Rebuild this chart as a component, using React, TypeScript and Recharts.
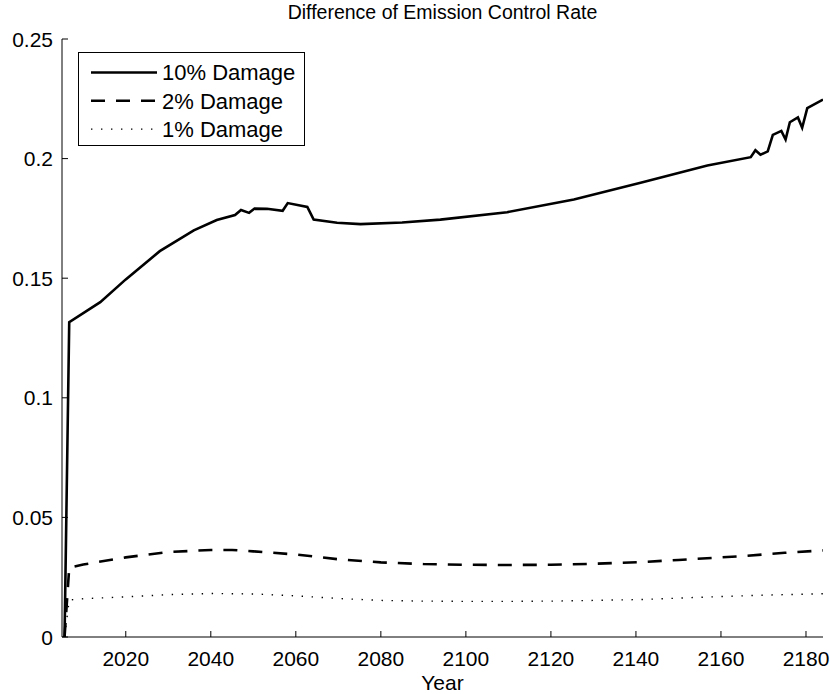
import { LineChart, Line, XAxis, YAxis, Legend } from 'recharts'

// 10% damage run
const years10 = [2005.6, 2006.7, 2014, 2020, 2028, 2036, 2041.4, 2045.7, 2047.1, 2049.0, 2050.3, 2053.2, 2056.9, 2058.1, 2062.7, 2064.2, 2069.7, 2075.2, 2085, 2094, 2109.7, 2125.4, 2141.1, 2156.8, 2167.0, 2168.1, 2169.3, 2171.0, 2172.2, 2174.2, 2175.2, 2176.2, 2178.1, 2179.1, 2180.3, 2184]
const damage10 = [0, 0.1316, 0.14, 0.1495, 0.1613, 0.17, 0.1743, 0.1764, 0.1785, 0.1773, 0.1791, 0.179, 0.1782, 0.1814, 0.1798, 0.1745, 0.1732, 0.1726, 0.1733, 0.1745, 0.1776, 0.1829, 0.1899, 0.1971, 0.2006, 0.2035, 0.2016, 0.203, 0.2099, 0.2116, 0.208, 0.2152, 0.2172, 0.2129, 0.2211, 0.2247]

// 2% damage run
const years2 = [2005.6, 2006.7, 2010, 2020, 2030, 2040, 2045, 2050, 2060, 2070, 2080, 2090, 2100, 2110, 2120, 2130, 2141, 2150, 2165, 2175, 2184]
const damage2 = [0, 0.029, 0.0303, 0.0333, 0.0355, 0.0364, 0.0364, 0.0358, 0.0345, 0.0325, 0.0312, 0.0305, 0.0302, 0.0301, 0.0302, 0.0306, 0.0313, 0.0322, 0.0338, 0.0352, 0.0362]

// 1% damage run
const years1 = [2005.6, 2006.7, 2010, 2020, 2030, 2040, 2050, 2060, 2070, 2080, 2090, 2100, 2110, 2120, 2130, 2142, 2155, 2170, 2184]
const damage1 = [0, 0.0155, 0.016, 0.0168, 0.0177, 0.0182, 0.018, 0.0172, 0.0161, 0.0153, 0.015, 0.0149, 0.0149, 0.015, 0.0153, 0.0157, 0.0166, 0.0175, 0.0181]

const xTicks = [2020, 2040, 2060, 2080, 2100, 2120, 2140, 2160, 2180]
const yTicks = [0, 0.05, 0.1, 0.15, 0.2, 0.25]
const yLabels = ['0', '0.05', '0.1', '0.15', '0.2', '0.25']

const FONT = '"Liberation Sans", Arial, Helvetica, sans-serif'
const TICK_LEN = 6

const toRows = (xs: number[], ys: number[]) => xs.map((year, i) => ({ year, value: ys[i] }))

const series = [
  { name: '10% Damage', data: toRows(years10, damage10), width: 2.6, dash: undefined as string | undefined },
  { name: '2% Damage', data: toRows(years2, damage2), width: 2.6, dash: '14 11' },
  { name: '1% Damage', data: toRows(years1, damage1), width: 1.4, dash: '1.4 8.6' },
]

function BottomTick(props: any) {
  const { x, y, payload } = props
  return (
    <g>
      <line x1={x} x2={x} y1={y} y2={y - TICK_LEN} stroke="#000" strokeWidth={1} />
      <text x={x} y={y + 29} textAnchor="middle" fontSize={21} fontFamily={FONT} fill="#000">{payload.value}</text>
    </g>
  )
}

function TopTick(props: any) {
  const { x, y } = props
  return <line x1={x} x2={x} y1={y} y2={y + TICK_LEN} stroke="#000" strokeWidth={1} />
}

function LeftTick(props: any) {
  const { x, y, payload } = props
  const idx = yTicks.indexOf(payload.value)
  return (
    <g>
      <line x1={x} x2={x + TICK_LEN} y1={y} y2={y} stroke="#000" strokeWidth={1} />
      <text x={x - 9} y={y + 7.5} textAnchor="end" fontSize={21} fontFamily={FONT} fill="#000">
        {idx >= 0 ? yLabels[idx] : payload.value}
      </text>
    </g>
  )
}

function RightTick(props: any) {
  const { x, y } = props
  return <line x1={x} x2={x - TICK_LEN} y1={y} y2={y} stroke="#000" strokeWidth={1} />
}

function LegendBox() {
  return (
    <svg width={227} height={94} style={{ display: 'block' }}>
      <rect x={0.5} y={0.5} width={226} height={93} fill="#fff" stroke="#000" strokeWidth={1} />
      {series.map((s, i) => {
        const cy = 20.5 + i * 28.3
        return (
          <g key={s.name}>
            <line x1={13} x2={79} y1={cy} y2={cy} stroke="#000" strokeWidth={s.width} strokeDasharray={s.dash} />
            <text x={84} y={cy + 7.8} fontSize={22} fontFamily={FONT} fill="#000">{s.name}</text>
          </g>
        )
      })}
    </svg>
  )
}

export default function App() {
  return (
    <div style={{ position: 'absolute', left: 0, top: 0, width: 830, height: 694, background: '#fff', fontFamily: FONT }}>
      <div style={{ position: 'absolute', left: 62, width: 761, top: 0, textAlign: 'center', fontSize: 19.5, lineHeight: '24px', color: '#000' }}>
        Difference of Emission Control Rate
      </div>
      <LineChart width={830} height={694} margin={{ top: 39, right: 7, bottom: 0, left: 0 }}>
        <XAxis
          xAxisId="b"
          type="number"
          dataKey="year"
          domain={[2005, 2184]}
          allowDataOverflow
          ticks={xTicks}
          interval={0}
          height={57}
          tickSize={0}
          tickMargin={0}
          tickLine={false}
          tick={<BottomTick />}
          axisLine={{ stroke: '#000', strokeWidth: 1 }}
          label={{ value: 'Year', position: 'insideBottom', offset: 4, fill: '#000', fontSize: 21, fontFamily: FONT }}
        />
        <XAxis
          xAxisId="t"
          orientation="top"
          type="number"
          dataKey="year"
          domain={[2005, 2184]}
          allowDataOverflow
          ticks={xTicks}
          interval={0}
          height={0}
          tickSize={0}
          tickMargin={0}
          tickLine={false}
          tick={<TopTick />}
          axisLine={{ stroke: '#000', strokeWidth: 1 }}
        />
        <YAxis
          yAxisId="l"
          type="number"
          domain={[0, 0.25]}
          allowDataOverflow
          ticks={yTicks}
          interval={0}
          width={62}
          tickSize={0}
          tickMargin={0}
          tickLine={false}
          tick={<LeftTick />}
          axisLine={{ stroke: '#000', strokeWidth: 1 }}
        />
        <YAxis
          yAxisId="r"
          orientation="right"
          type="number"
          domain={[0, 0.25]}
          allowDataOverflow
          ticks={yTicks}
          interval={0}
          width={0}
          tickSize={0}
          tickMargin={0}
          tickLine={false}
          tick={<RightTick />}
          axisLine={{ stroke: '#000', strokeWidth: 1 }}
        />
        <Legend
          layout="vertical"
          align="center"
          verticalAlign="middle"
          content={() => <LegendBox />}
          wrapperStyle={{ left: 78, top: 52, width: 227, height: 94 }}
        />
        {series.map(s => (
          <Line
            key={s.name}
            xAxisId="b"
            yAxisId="l"
            data={s.data}
            dataKey="value"
            name={s.name}
            type="linear"
            stroke="#000"
            strokeWidth={s.width}
            strokeDasharray={s.dash}
            dot={false}
            activeDot={false}
            isAnimationActive={false}
          />
        ))}
      </LineChart>
    </div>
  )
}
